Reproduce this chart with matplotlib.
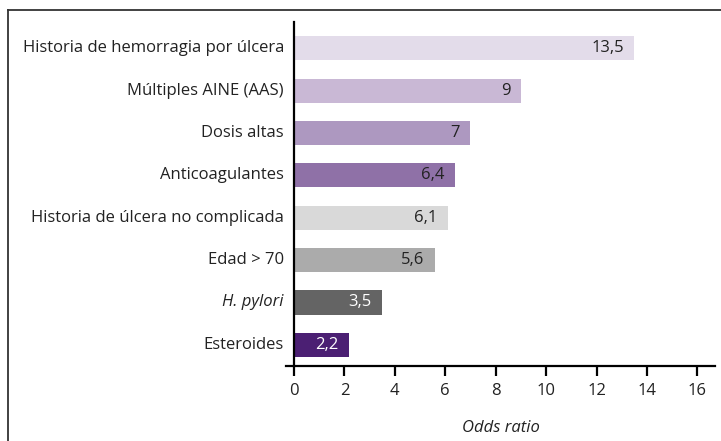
import matplotlib
matplotlib.use("Agg")
import matplotlib.pyplot as plt
from matplotlib.lines import Line2D

categories = [
    "Historia de hemorragia por úlcera",
    "Múltiples AINE (AAS)",
    "Dosis altas",
    "Anticoagulantes",
    "Historia de úlcera no complicada",
    "Edad > 70",
    "H. pylori",
    "Esteroides",
]
values = [13.5, 9, 7, 6.4, 6.1, 5.6, 3.5, 2.2]
value_labels = ["13,5", "9", "7", "6,4", "6,1", "5,6", "3,5", "2,2"]
colors = ["#e3dcea", "#c9b8d5", "#ad98c0", "#8f71a7",
          "#d9d9d9", "#ababab", "#646464", "#4b1f73"]
label_colors = ["#222222"] * 6 + ["white", "white"]
xticks = [0, 2, 4, 6, 8, 10, 12, 14, 16]

plt.rcParams['font.family'] = ['Open Sans', 'DejaVu Sans']
FS = 12

fig = plt.figure(figsize=(7.21, 4.41), dpi=100)
ax = fig.add_axes([286.4/721, 1-366/441, (715-286.4)/721, (366-22)/441])

n = len(categories)
ypos = [n - 1 - i for i in range(n)]
ax.barh(ypos, values, height=0.57, color=colors, zorder=2)

for y, v, lab, lc in zip(ypos, values, value_labels, label_colors):
    ax.text(v - 0.42, y, lab, ha='right', va='center', fontsize=FS, color=lc, zorder=3)

ax.set_xlim(-0.3, 16.7)
ax.set_ylim(-0.5, 7.62)
ax.set_yticks(ypos)
ax.set_yticklabels([])
ax.tick_params(axis='y', length=0)
for y, cat in zip(ypos, categories):
    ax.text(-0.4, y, cat, ha='right', va='center', fontsize=FS, color='#222222',
            style='italic' if cat == "H. pylori" else 'normal')

ax.set_xticks(xticks)
ax.set_xticklabels([str(x) for x in xticks], fontsize=FS, color='#222222')
ax.tick_params(axis='x', direction='out', length=7, width=1.6, pad=5)

ax.spines['top'].set_visible(False)
ax.spines['right'].set_visible(False)
ax.spines['left'].set_position(('data', 0))
ax.spines['left'].set_linewidth(1.6)
ax.spines['bottom'].set_linewidth(1.6)
ax.set_xlabel("Odds ratio", fontsize=FS, style='italic', color='#222222', labelpad=15)

# figure frame (top and left)
fig.add_artist(Line2D([7.5/721, 1], [1-9.5/441, 1-9.5/441], transform=fig.transFigure, color='#333333', lw=1.3))
fig.add_artist(Line2D([7.5/721, 7.5/721], [0, 1-9.5/441], transform=fig.transFigure, color='#333333', lw=1.3))

fig.savefig("out.png", dpi=100)
